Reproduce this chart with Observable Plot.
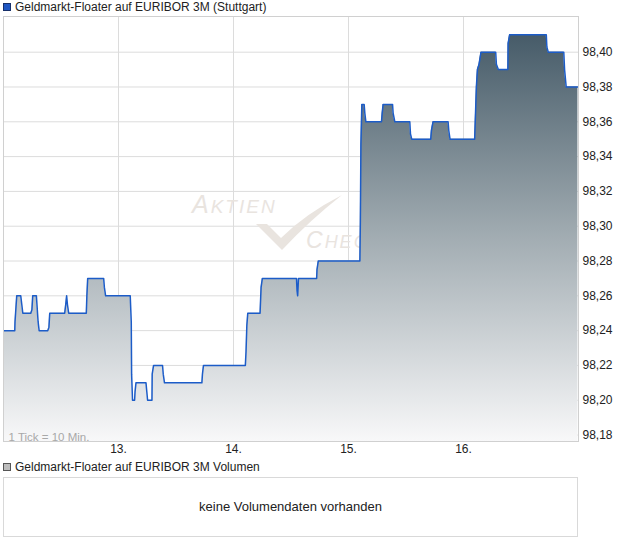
<!DOCTYPE html>
<html>
<head>
<meta charset="utf-8">
<script src="https://cdn.jsdelivr.net/npm/d3@7"></script>
<script src="https://cdn.jsdelivr.net/npm/@observablehq/plot@0.6"></script>
<style>
  html, body { margin: 0; padding: 0; background: #fff; }
  body { width: 620px; height: 546px; position: relative; overflow: hidden;
         font-family: "Liberation Sans", Arial, sans-serif; color: #222; }
  .legend { position: absolute; left: 3px; font-size: 12px; line-height: 14px; white-space: nowrap; }
  .legend .sq { display: inline-block; width: 6px; height: 6px; margin-right: 4px; vertical-align: 0px; }
  #chart { position: absolute; left: 0; top: 0; }
  #volbox { position: absolute; left: 3px; top: 477px; width: 575px; height: 60px;
            border: 1px solid #d9d9d9; box-sizing: border-box; text-align: center;
            font-size: 13px; line-height: 58px; color: #222; }
</style>
</head>
<body>
<div id="chart"></div>
<div class="legend" style="top:0px;"><span class="sq" style="background:#1f56c2;border:1px solid #17306a;"></span>Geldmarkt-Floater auf EURIBOR 3M (Stuttgart)</div>
<div class="legend" style="top:460px;"><span class="sq" style="background:#bdbdbd;border:1px solid #555;"></span>Geldmarkt-Floater auf EURIBOR 3M Volumen</div>
<div id="volbox">keine Volumendaten vorhanden</div>
<script>
// ---- data (time in days of month, price) ----
const times = [
  12.000, 12.098, 12.100, 12.110, 12.115, 12.150, 12.159, 12.168, 12.237, 12.247,
  12.254, 12.286, 12.301, 12.310, 12.385, 12.395, 12.402, 12.532, 12.541, 12.549,
  12.556, 12.567, 12.720, 12.725, 12.732, 12.871, 12.877, 12.888, 13.102, 13.111,
  13.114, 13.122, 13.140, 13.144, 13.152, 13.239, 13.246, 13.253, 13.291, 13.293,
  13.305, 13.383, 13.389, 13.400, 13.725, 13.730, 13.739, 14.103, 14.109, 14.116,
  14.124, 14.231, 14.240, 14.251, 14.548, 14.552, 14.558, 14.565, 14.723, 14.726,
  14.737, 15.099, 15.103, 15.108, 15.116, 15.136, 15.142, 15.151, 15.287, 15.293,
  15.301, 15.383, 15.388, 15.403, 15.533, 15.539, 15.550, 15.715, 15.721, 15.735,
  15.866, 15.872, 15.883, 16.097, 16.102, 16.112, 16.121, 16.135, 16.152, 16.280,
  16.286, 16.303, 16.386, 16.388, 16.401, 16.720, 16.725, 16.737, 16.872, 16.879,
  16.893, 16.995
];
const prices = [
  98.240, 98.240, 98.245, 98.255, 98.260, 98.260, 98.255, 98.250, 98.250, 98.252,
  98.260, 98.260, 98.245, 98.240, 98.240, 98.242, 98.250, 98.250, 98.255, 98.260,
  98.255, 98.250, 98.250, 98.260, 98.270, 98.270, 98.265, 98.260, 98.260, 98.245,
  98.215, 98.200, 98.200, 98.205, 98.210, 98.210, 98.205, 98.200, 98.200, 98.215,
  98.220, 98.220, 98.215, 98.210, 98.210, 98.215, 98.220, 98.220, 98.228, 98.243,
  98.250, 98.250, 98.265, 98.270, 98.270, 98.263, 98.260, 98.270, 98.270, 98.275,
  98.280, 98.280, 98.302, 98.347, 98.370, 98.370, 98.365, 98.360, 98.360, 98.365,
  98.370, 98.370, 98.365, 98.360, 98.360, 98.353, 98.350, 98.350, 98.355, 98.360,
  98.360, 98.355, 98.350, 98.350, 98.360, 98.380, 98.390, 98.393, 98.400, 98.400,
  98.393, 98.390, 98.390, 98.405, 98.410, 98.410, 98.403, 98.400, 98.400, 98.390,
  98.380, 98.380
];
const yTicks = [98.18, 98.20, 98.22, 98.24, 98.26, 98.28, 98.30, 98.32, 98.34, 98.36, 98.38, 98.40];
const xTicks = [13, 14, 15, 16];
const xTickLabels = ["13.", "14.", "15.", "16."];
const yDomain = [98.1763, 98.4205];
const xDomain = [12, 17];

const data = times.map((t, i) => ({t, p: prices[i]}));
const labelOf = new Map(xTicks.map((d, i) => [d, xTickLabels[i]]));

const chart = Plot.plot({
  width: 620,
  height: 460,
  marginLeft: 3,
  marginRight: 42,
  marginTop: 16,
  marginBottom: 19,
  style: {fontFamily: "'Liberation Sans', Arial, sans-serif", fontSize: "12px", color: "#222", background: "transparent"},
  x: {domain: xDomain, label: null},
  y: {domain: yDomain, label: null},
  marks: [
    Plot.gridX(xTicks, {stroke: "#dcdcdc", strokeOpacity: 1}),
    Plot.gridY(yTicks, {stroke: "#dcdcdc", strokeOpacity: 1}),
    Plot.areaY(data, {x: "t", y1: () => yDomain[0], y2: "p", fill: "url(#areaGrad)", clip: true}),
    Plot.line(data, {x: "t", y: "p", stroke: "#1c5cc8", strokeWidth: 1.5, clip: true}),
    Plot.text(["1 Tick = 10 Min."], {frameAnchor: "bottom-left", dx: 5, dy: -1, fill: "#a8a8a8", fontSize: 11.5}),
    Plot.frame({stroke: "#d0d0d0"}),
    Plot.axisY(yTicks, {anchor: "right", tickSize: 0, tickPadding: 4, label: null, tickFormat: d => d.toFixed(2).replace(".", ","), fill: "#222"}),
    Plot.axisX(xTicks, {anchor: "bottom", tickSize: 0, tickPadding: 3, label: null, tickFormat: d => labelOf.get(d), fill: "#222"})
  ]
});

document.getElementById("chart").appendChild(chart);

// gradient definition + faint watermark (decoration)
const svg = d3.select(chart);
const defs = svg.insert("defs", ":first-child");
const g = defs.append("linearGradient").attr("id", "areaGrad")
  .attr("gradientUnits", "userSpaceOnUse").attr("x1", 0).attr("x2", 0).attr("y1", 16).attr("y2", 441);
g.append("stop").attr("offset", "0%").attr("stop-color", "#3e5462");
g.append("stop").attr("offset", "50%").attr("stop-color", "#9ea9af");
g.append("stop").attr("offset", "100%").attr("stop-color", "#f8f8f9");

const wm = svg.insert("g", "g[aria-label='area']").attr("fill", "#e9e4df").attr("font-style", "italic")
  .attr("font-family", "'Liberation Sans', Arial, sans-serif").attr("letter-spacing", 2);
const t1 = wm.append("text").attr("x", 192).attr("y", 213).attr("text-anchor", "start");
t1.append("tspan").attr("font-size", 25).text("A");
t1.append("tspan").attr("font-size", 19).text("KTIEN");
const t2 = wm.append("text").attr("x", 306).attr("y", 248).attr("text-anchor", "start");
t2.append("tspan").attr("font-size", 23).text("C");
t2.append("tspan").attr("font-size", 18).text("HECK");
wm.append("path").attr("d", "M256,224 L267,224 L281,238 Q305,214 342,195 Q310,220 282,250 Z");
</script>
</body>
</html>
